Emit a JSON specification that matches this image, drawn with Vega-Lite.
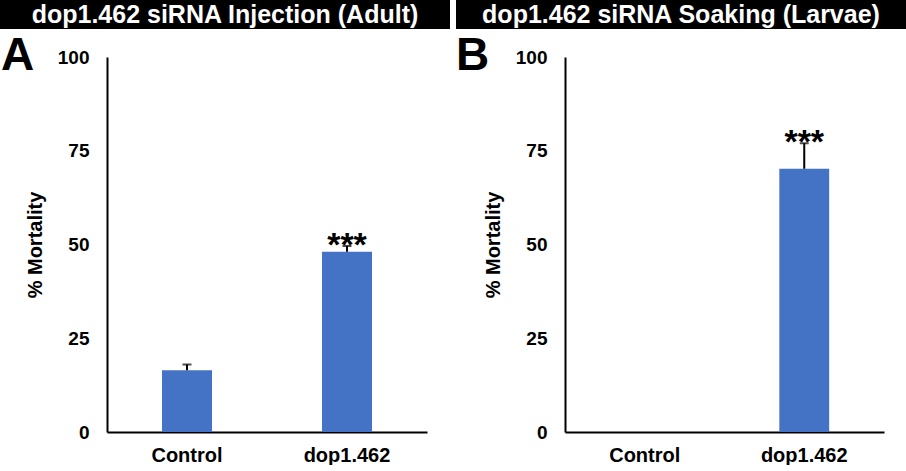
{
  "$schema": "https://vega.github.io/schema/vega-lite/v6.json",
  "padding": 0,
  "background": "white",
  "config": {
    "font": "Liberation Sans",
    "view": {"stroke": null},
    "axis": {
      "domainColor": "black", "domainWidth": 2, "ticks": false, "tickSize": 0, "grid": false,
      "labelColor": "black", "labelFontWeight": "bold", "titleColor": "black", "titleFontWeight": "bold"
    }
  },
  "spacing": 6,
  "hconcat": [
    {
      "columns": 1,
      "align": "none",
      "spacing": 4,
      "concat": [
        {
          "width": 450, "height": 29,
          "view": {"fill": "black", "stroke": null},
          "data": {"values": [{"label": "dop1.462 siRNA Injection (Adult)"}]},
          "mark": {"type": "text", "color": "white", "fontSize": 25, "fontWeight": "bold", "baseline": "middle", "align": "center"},
          "encoding": {"text": {"field": "label"}}
        },
        {
          "width": 427, "height": 375,
          "title": {"text": "A", "anchor": "start", "frame": "group", "fontSize": 46, "fontWeight": "bold", "color": "black", "offset": -32, "dx": 1},
          "data": {"values": [
            {"group": "Control", "mortality": 16.5, "upper": 18.0, "sig": ""},
            {"group": "dop1.462", "mortality": 48.1, "upper": 49.6, "sig": "***"}
          ]},
          "encoding": {
            "x": {"field": "group", "type": "nominal", "scale": {"range": [107, 427], "paddingInner": 0.6875, "paddingOuter": 0.34375},
                  "axis": {"title": null, "labelAngle": 0, "labelFontSize": 20, "labelPadding": 13}}
          },
          "layer": [
            {"mark": {"type": "bar", "color": "#4472C4"},
             "encoding": {"y": {"field": "mortality", "type": "quantitative", "scale": {"domain": [0, 100]},
               "axis": {"values": [0, 25, 50, 75, 100], "offset": -107, "title": "% Mortality", "labelFontSize": 19, "labelPadding": 18, "titleFontSize": 20, "titlePadding": 12}}}},
            {"mark": {"type": "rule", "color": "black", "strokeWidth": 2},
             "encoding": {"y": {"field": "mortality", "type": "quantitative"}, "y2": {"field": "upper"}}},
            {"mark": {"type": "tick", "color": "black", "thickness": 2, "size": 9},
             "encoding": {"y": {"field": "upper", "type": "quantitative"}}},
            {"mark": {"type": "text", "fontSize": 34, "fontWeight": "bold", "baseline": "alphabetic", "dy": 10, "color": "black"},
             "encoding": {"y": {"field": "upper", "type": "quantitative"}, "text": {"field": "sig"}}}
          ]
        }
      ]
    },
    {
      "columns": 1,
      "align": "none",
      "spacing": 4,
      "concat": [
        {
          "width": 450, "height": 29,
          "view": {"fill": "black", "stroke": null},
          "data": {"values": [{"label": "dop1.462 siRNA Soaking (Larvae)"}]},
          "mark": {"type": "text", "color": "white", "fontSize": 25, "fontWeight": "bold", "baseline": "middle", "align": "center"},
          "encoding": {"text": {"field": "label"}}
        },
        {
          "width": 428, "height": 375,
          "title": {"text": "B", "anchor": "start", "frame": "group", "fontSize": 46, "fontWeight": "bold", "color": "black", "offset": -32, "dx": 0},
          "data": {"values": [
            {"group": "Control", "mortality": 0, "upper": null, "sig": ""},
            {"group": "dop1.462", "mortality": 70.2, "upper": 77.0, "sig": "***"}
          ]},
          "encoding": {
            "x": {"field": "group", "type": "nominal", "scale": {"range": [109, 428], "paddingInner": 0.6875, "paddingOuter": 0.34375},
                  "axis": {"title": null, "labelAngle": 0, "labelFontSize": 20, "labelPadding": 13}}
          },
          "layer": [
            {"mark": {"type": "bar", "color": "#4472C4"},
             "encoding": {"y": {"field": "mortality", "type": "quantitative", "scale": {"domain": [0, 100]},
               "axis": {"values": [0, 25, 50, 75, 100], "offset": -109, "title": "% Mortality", "labelFontSize": 19, "labelPadding": 18, "titleFontSize": 20, "titlePadding": 12}}}},
            {"mark": {"type": "rule", "color": "black", "strokeWidth": 2},
             "encoding": {"y": {"field": "mortality", "type": "quantitative"}, "y2": {"field": "upper"}}},
            {"mark": {"type": "tick", "color": "black", "thickness": 2, "size": 9},
             "encoding": {"y": {"field": "upper", "type": "quantitative"}}},
            {"mark": {"type": "text", "fontSize": 34, "fontWeight": "bold", "baseline": "alphabetic", "dy": 10, "color": "black"},
             "encoding": {"y": {"field": "upper", "type": "quantitative"}, "text": {"field": "sig"}}}
          ]
        }
      ]
    }
  ]
}
